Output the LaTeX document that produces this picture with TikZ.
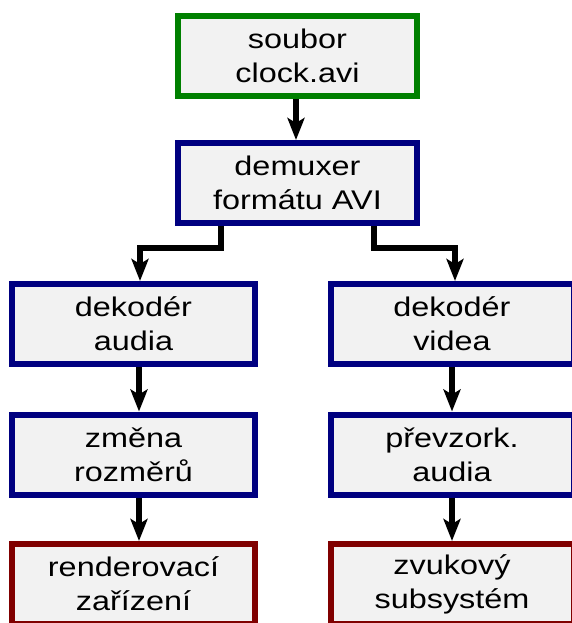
\documentclass[tikz,border=0pt]{standalone}
\usepackage{fontspec}
\setmainfont{Liberation Sans}[FakeStretch=1.2]
\usetikzlibrary{arrows.meta}
\definecolor{boxfill}{HTML}{F2F2F2}
\definecolor{srcgreen}{HTML}{008000}
\definecolor{procblue}{HTML}{000080}
\definecolor{sinkred}{HTML}{800000}
\tikzset{
  box/.style={draw, line width=6pt, fill=boxfill, rectangle, align=center,
    minimum height=80pt, inner sep=0pt,
    font=\fontsize{27pt}{34pt}\selectfont},
  src/.style={box, draw=srcgreen, minimum width=239pt},
  mid/.style={box, draw=procblue, minimum width=239pt},
  proc/.style={box, draw=procblue, minimum width=243pt},
  sink/.style={box, draw=sinkred, minimum width=243pt},
  arr/.style={line width=6pt, line join=miter, -{Stealth[length=22pt,width=17pt,inset=5pt]}}
}
\begin{document}
\begin{tikzpicture}[x=1pt,y=1pt]
\useasboundingbox (0,0) rectangle (572,-623);
\node[src] (src) at (297.5,-56) {soubor\\clock.avi};
\node[mid] (demux) at (297.5,-183) {demuxer\\formátu AVI};
\node[proc] (deca) at (133.5,-324) {dekodér\\audia};
\node[proc] (decv) at (452,-324) {dekodér\\videa};
\node[proc] (resize) at (133.5,-454.5) {změna\\rozměrů};
\node[proc] (resamp) at (452,-454.5) {převzork.\\audia};
\node[sink] (render) at (133.5,-584) {renderovací\\zařízení};
\node[sink] (sound) at (452,-584) {zvukový\\subsystém};
\coordinate (l1) at (221,-248);
\coordinate (l2) at (140,-248);
\coordinate (r1) at (374,-248);
\coordinate (r2) at (455,-248);
\coordinate (cl) at (139,0);
\coordinate (cr) at (452,0);
\coordinate (cm) at (296,0);
\draw[arr] (src.south -| cm) -- (demux.north -| cm);
\draw[arr] (demux.south -| l1) -- (l1) -- (l2) -- (l2 |- deca.north);
\draw[arr] (demux.south -| r1) -- (r1) -- (r2) -- (r2 |- decv.north);
\draw[arr] (deca.south -| cl) -- (resize.north -| cl);
\draw[arr] (resize.south -| cl) -- (render.north -| cl);
\draw[arr] (decv.south -| cr) -- (resamp.north -| cr);
\draw[arr] (resamp.south -| cr) -- (sound.north -| cr);
\end{tikzpicture}
\end{document}
